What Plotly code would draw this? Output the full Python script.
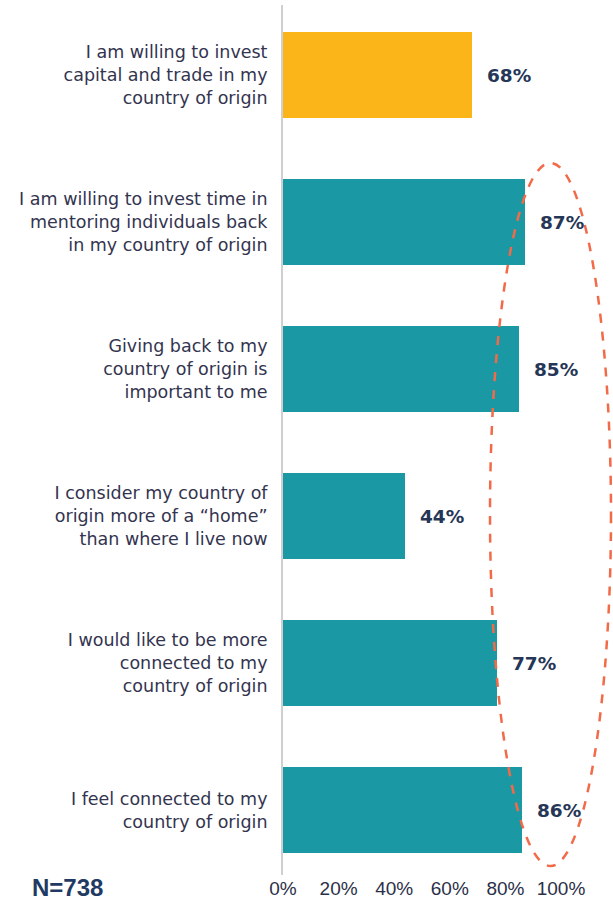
import plotly.graph_objects as go

categories = [
    "I am willing to invest<br>capital and trade in my<br>country of origin",
    "I am willing to invest time in<br>mentoring individuals back<br>in my country of origin",
    "Giving back to my<br>country of origin is<br>important to me",
    "I consider my country of<br>origin more of a \u201chome\u201d<br>than where I live now",
    "I would like to be more<br>connected to my<br>country of origin",
    "I feel connected to my<br>country of origin",
]
values = [68, 87, 85, 44, 77, 86]
bar_colors = ["#FBB519", "#1A98A3", "#1A98A3", "#1A98A3", "#1A98A3", "#1A98A3"]
tick_vals = [0, 20, 40, 60, 80, 100]
tick_text = ["0%", "20%", "40%", "60%", "80%", "100%"]
sample_label = "N=738"

W, H = 613, 901
L, R, T, B = 283, 0, 5, 26
px_per_unit = 2.78
plot_w = W - L - R
plot_h = H - T - B
row_px = 147
center0 = 75  # pixel y of first category center

fig = go.Figure()
fig.add_trace(go.Bar(
    x=values,
    y=categories,
    orientation="h",
    marker=dict(color=bar_colors, line=dict(width=0)),
    width=0.585,
    hoverinfo="skip",
))

for v, c in zip(values, categories):
    fig.add_annotation(
        x=v, y=c, xref="x", yref="y",
        text=f"<b>{v}%</b>", showarrow=False,
        xanchor="left", yanchor="middle", xshift=13,
        font=dict(family="DejaVu Sans", size=18.5, color="#253656"),
    )

fig.add_annotation(
    xref="paper", yref="paper",
    x=(30 - L) / plot_w, y=(T + plot_h - 887) / plot_h,
    text=f"<b>{sample_label}</b>", showarrow=False,
    xanchor="left", yanchor="middle",
    font=dict(family="Liberation Sans", size=24, color="#1F3A63"),
)

# dashed ellipse
fig.add_shape(
    type="circle", xref="x", yref="y",
    x0=(490 - L) / px_per_unit, x1=(611 - L) / px_per_unit,
    y0=(163 - center0) / row_px, y1=(866 - center0) / row_px,
    line=dict(color="#F26A48", width=2.5, dash="dash"),
    layer="above",
)

y_top = 0 - (center0 - T) / row_px
y_bot = 0 + (T + plot_h - center0) / row_px

fig.update_layout(
    width=W, height=H,
    margin=dict(l=L, r=R, t=T, b=B),
    plot_bgcolor="white", paper_bgcolor="white",
    showlegend=False,
    bargap=0,
    xaxis=dict(
        range=[0, plot_w / px_per_unit],
        tickvals=tick_vals, ticktext=tick_text,
        showgrid=False, zeroline=False, showline=False,
        tickfont=dict(family="Liberation Sans", size=19, color="#2B3048"),
        fixedrange=True,
    ),
    yaxis=dict(
        categoryorder="array", categoryarray=categories,
        range=[y_bot, y_top],
        showgrid=False, zeroline=False,
        showline=True, linecolor="#CFCFCF", linewidth=2,
        ticks="", ticklabelstandoff=10,
        tickfont=dict(family="DejaVu Sans", size=17.5, color="#33344F"),
        fixedrange=True,
    ),
)

fig.write_html(
    "out.html",
    config={"displayModeBar": False},
    post_script="document.body.style.margin='0';document.body.style.overflow='hidden';",
)
